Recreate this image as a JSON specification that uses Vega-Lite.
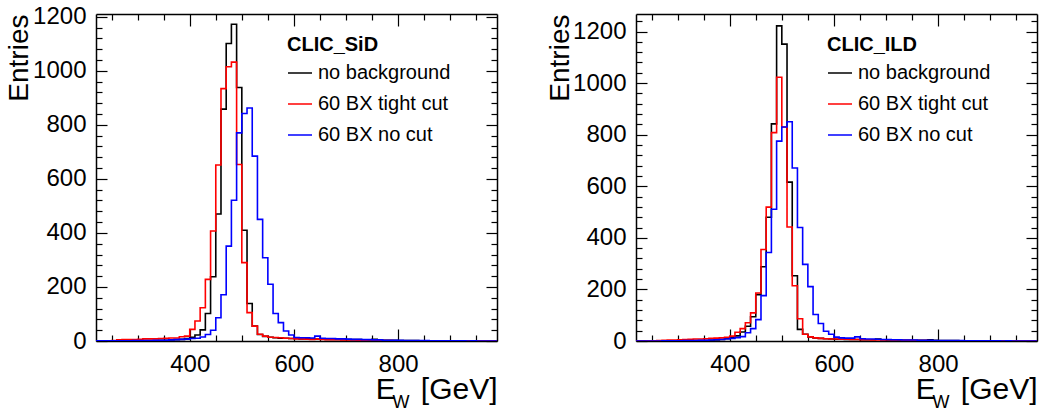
{
  "$schema": "https://vega.github.io/schema/vega-lite/v6.json",
  "autosize": {"type": "pad"},
  "padding": {"left": 4, "top": 4, "right": 0, "bottom": 0},
  "background": "white",
  "config": {
    "font": "Liberation Sans",
    "view": {"stroke": null},
    "axis": {"grid": false, "domainColor": "black", "domainWidth": 1.5, "tickColor": "black", "tickWidth": 1.2, "labelColor": "black", "titleColor": "black", "labelFontSize": 24, "titleFontSize": 28, "titleFontWeight": "normal", "labelFont": "Liberation Sans", "titleFont": "Liberation Sans", "labelOverlap": false, "labelFlush": false, "format": "d"},
    "legend": {"orient": "none", "legendX": 191, "legendY": 21, "titleFontSize": 20, "titleFontWeight": "bold", "titleColor": "black", "titlePadding": 5, "labelFontSize": 20, "labelColor": "black", "symbolType": "stroke", "symbolSize": 576, "symbolStrokeWidth": 1.5, "rowPadding": 8, "labelOffset": 5, "padding": 0, "offset": 0, "labelLimit": 400}
  },
  "datasets": {
    "sid": [
      {"x":220,"bg":0,"tc":0,"nc":1},{"x":230,"bg":0,"tc":0,"nc":1},{"x":240,"bg":0,"tc":1,"nc":1},{"x":250,"bg":0,"tc":2,"nc":1},
      {"x":260,"bg":1,"tc":4,"nc":1},{"x":270,"bg":1,"tc":5,"nc":1},{"x":280,"bg":1,"tc":5,"nc":1},{"x":290,"bg":1,"tc":5,"nc":2},
      {"x":300,"bg":2,"tc":6,"nc":2},{"x":310,"bg":2,"tc":8,"nc":2},{"x":320,"bg":2,"tc":8,"nc":2},{"x":330,"bg":2,"tc":8,"nc":3},
      {"x":340,"bg":3,"tc":9,"nc":3},{"x":350,"bg":3,"tc":10,"nc":3},{"x":360,"bg":4,"tc":11,"nc":4},{"x":370,"bg":5,"tc":11,"nc":5},
      {"x":380,"bg":6,"tc":16,"nc":6},{"x":390,"bg":9,"tc":18,"nc":7},{"x":400,"bg":14,"tc":43,"nc":9},{"x":410,"bg":22,"tc":74,"nc":10},
      {"x":420,"bg":41,"tc":123,"nc":15},{"x":430,"bg":102,"tc":228,"nc":24},{"x":440,"bg":238,"tc":407,"nc":40},{"x":450,"bg":470,"tc":651,"nc":86},
      {"x":460,"bg":858,"tc":934,"nc":171},{"x":470,"bg":1101,"tc":1015,"nc":351},{"x":480,"bg":1172,"tc":1032,"nc":521},{"x":490,"bg":938,"tc":653,"nc":770},
      {"x":500,"bg":410,"tc":290,"nc":842},{"x":510,"bg":139,"tc":105,"nc":862},{"x":520,"bg":55,"tc":55,"nc":684},{"x":530,"bg":24,"tc":25,"nc":450},
      {"x":540,"bg":17,"tc":18,"nc":308},{"x":550,"bg":14,"tc":14,"nc":210},{"x":560,"bg":12,"tc":13,"nc":102},{"x":570,"bg":10,"tc":12,"nc":68},
      {"x":580,"bg":10,"tc":10,"nc":37},{"x":590,"bg":9,"tc":9,"nc":22},{"x":600,"bg":9,"tc":8,"nc":13},{"x":610,"bg":8,"tc":8,"nc":12},
      {"x":620,"bg":8,"tc":7,"nc":12},{"x":630,"bg":7,"tc":6,"nc":11},{"x":640,"bg":7,"tc":7,"nc":18},{"x":650,"bg":7,"tc":6,"nc":10},
      {"x":660,"bg":6,"tc":5,"nc":9},{"x":670,"bg":6,"tc":5,"nc":9},{"x":680,"bg":6,"tc":5,"nc":8},{"x":690,"bg":5,"tc":4,"nc":8},
      {"x":700,"bg":5,"tc":4,"nc":7},{"x":710,"bg":5,"tc":4,"nc":6},{"x":720,"bg":5,"tc":3,"nc":6},{"x":730,"bg":4,"tc":3,"nc":5},
      {"x":740,"bg":4,"tc":4,"nc":5},{"x":750,"bg":6,"tc":3,"nc":4},{"x":760,"bg":4,"tc":2,"nc":4},{"x":770,"bg":3,"tc":2,"nc":3},
      {"x":780,"bg":3,"tc":2,"nc":3},{"x":790,"bg":3,"tc":1,"nc":3},{"x":800,"bg":2,"tc":1,"nc":3},{"x":810,"bg":2,"tc":1,"nc":2},
      {"x":820,"bg":2,"tc":1,"nc":2},{"x":830,"bg":2,"tc":1,"nc":2},{"x":840,"bg":1,"tc":1,"nc":2},{"x":850,"bg":1,"tc":0,"nc":2},
      {"x":860,"bg":1,"tc":0,"nc":1},{"x":870,"bg":1,"tc":0,"nc":1},{"x":880,"bg":0,"tc":0,"nc":1},{"x":890,"bg":0,"tc":0,"nc":1},
      {"x":900,"bg":0,"tc":0,"nc":1},{"x":910,"bg":0,"tc":0,"nc":1},{"x":920,"bg":0,"tc":0,"nc":1},{"x":930,"bg":0,"tc":0,"nc":0},
      {"x":940,"bg":0,"tc":0,"nc":1},{"x":950,"bg":0,"tc":0,"nc":0},{"x":960,"bg":0,"tc":0,"nc":0},{"x":970,"bg":0,"tc":0,"nc":0},
      {"x":980,"bg":0,"tc":0,"nc":0},{"x":990,"bg":0,"tc":0,"nc":0}
    ],
    "ild": [
      {"x":220,"bg":0,"tc":0,"nc":0},{"x":230,"bg":0,"tc":0,"nc":0},{"x":240,"bg":0,"tc":1,"nc":0},{"x":250,"bg":0,"tc":1,"nc":0},
      {"x":260,"bg":0,"tc":2,"nc":0},{"x":270,"bg":0,"tc":3,"nc":1},{"x":280,"bg":1,"tc":4,"nc":1},{"x":290,"bg":1,"tc":4,"nc":1},
      {"x":300,"bg":1,"tc":5,"nc":1},{"x":310,"bg":1,"tc":6,"nc":2},{"x":320,"bg":1,"tc":7,"nc":2},{"x":330,"bg":2,"tc":8,"nc":2},
      {"x":340,"bg":2,"tc":8,"nc":3},{"x":350,"bg":2,"tc":9,"nc":3},{"x":360,"bg":3,"tc":10,"nc":4},{"x":370,"bg":4,"tc":11,"nc":5},
      {"x":380,"bg":6,"tc":12,"nc":6},{"x":390,"bg":10,"tc":14,"nc":8},{"x":400,"bg":14,"tc":19,"nc":10},{"x":410,"bg":20,"tc":34,"nc":13},
      {"x":420,"bg":35,"tc":48,"nc":17},{"x":430,"bg":57,"tc":71,"nc":32},{"x":440,"bg":94,"tc":109,"nc":48},{"x":450,"bg":180,"tc":186,"nc":83},
      {"x":460,"bg":288,"tc":355,"nc":176},{"x":470,"bg":480,"tc":519,"nc":343},{"x":480,"bg":842,"tc":808,"nc":511},{"x":490,"bg":1222,"tc":1023,"nc":775},
      {"x":500,"bg":1151,"tc":830,"nc":830},{"x":510,"bg":616,"tc":442,"nc":850},{"x":520,"bg":253,"tc":214,"nc":671},{"x":530,"bg":45,"tc":86,"nc":440},
      {"x":540,"bg":26,"tc":26,"nc":297},{"x":550,"bg":16,"tc":16,"nc":211},{"x":560,"bg":12,"tc":12,"nc":103},{"x":570,"bg":10,"tc":10,"nc":68},
      {"x":580,"bg":9,"tc":9,"nc":38},{"x":590,"bg":8,"tc":8,"nc":26},{"x":600,"bg":7,"tc":8,"nc":15},{"x":610,"bg":7,"tc":7,"nc":12},
      {"x":620,"bg":6,"tc":7,"nc":11},{"x":630,"bg":6,"tc":6,"nc":11},{"x":640,"bg":6,"tc":6,"nc":16},{"x":650,"bg":5,"tc":5,"nc":9},
      {"x":660,"bg":5,"tc":5,"nc":8},{"x":670,"bg":5,"tc":4,"nc":8},{"x":680,"bg":8,"tc":4,"nc":7},{"x":690,"bg":5,"tc":4,"nc":6},
      {"x":700,"bg":4,"tc":5,"nc":6},{"x":710,"bg":4,"tc":4,"nc":5},{"x":720,"bg":4,"tc":5,"nc":5},{"x":730,"bg":3,"tc":3,"nc":4},
      {"x":740,"bg":3,"tc":3,"nc":4},{"x":750,"bg":3,"tc":2,"nc":4},{"x":760,"bg":3,"tc":2,"nc":3},{"x":770,"bg":3,"tc":2,"nc":3},
      {"x":780,"bg":5,"tc":1,"nc":3},{"x":790,"bg":3,"tc":1,"nc":2},{"x":800,"bg":2,"tc":1,"nc":2},{"x":810,"bg":2,"tc":1,"nc":2},
      {"x":820,"bg":2,"tc":1,"nc":2},{"x":830,"bg":2,"tc":0,"nc":2},{"x":840,"bg":1,"tc":0,"nc":2},{"x":850,"bg":1,"tc":0,"nc":1},
      {"x":860,"bg":1,"tc":0,"nc":1},{"x":870,"bg":1,"tc":0,"nc":1},{"x":880,"bg":0,"tc":0,"nc":1},{"x":890,"bg":0,"tc":0,"nc":1},
      {"x":900,"bg":0,"tc":0,"nc":1},{"x":910,"bg":0,"tc":0,"nc":1},{"x":920,"bg":0,"tc":0,"nc":0},{"x":930,"bg":0,"tc":0,"nc":1},
      {"x":940,"bg":0,"tc":0,"nc":0},{"x":950,"bg":0,"tc":0,"nc":0},{"x":960,"bg":0,"tc":0,"nc":0},{"x":970,"bg":0,"tc":0,"nc":0},
      {"x":980,"bg":0,"tc":0,"nc":0},{"x":990,"bg":0,"tc":0,"nc":0}
    ]
  },
  "spacing": 139,
  "bounds": "flush",
  "resolve": {"scale": {"color": "independent"}, "legend": {"color": "independent"}},
  "hconcat": [
    {
      "width": 401, "height": 327,
      "data": {"name": "sid"},
      "transform": [{"fold": ["bg", "tc", "nc"], "as": ["s", "n"]}],
      "resolve": {"axis": {"x": "independent", "y": "independent"}},
      "layer": [
        {
          "mark": {"type": "line", "interpolate": "step-after", "strokeWidth": 1.6, "clip": true},
          "encoding": {
            "x": {"field": "x", "type": "quantitative", "scale": {"domain": [220, 990], "nice": false, "zero": false},
              "axis": {"orient": "bottom", "values": [250,300,350,400,450,500,550,600,650,700,750,800,850,900,950],
                "tickSize": {"condition": {"test": "datum.value % 200 === 0", "value": -12}, "value": -6},
                "labelExpr": "datum.value % 200 === 0 ? datum.label : ''", "labelPadding": 23,
                "title": "E\u00a0\u00a0\u00a0[GeV]", "titleFontSize": 30, "titleX": 401, "titleY": 57, "titleAlign": "right", "titleAnchor": "end", "titleBaseline": "alphabetic"}},
            "y": {"field": "n", "type": "quantitative", "scale": {"domain": [0, 1210], "nice": false},
              "axis": {"orient": "left", "values": [0,40,80,120,160,200,240,280,320,360,400,440,480,520,560,600,640,680,720,760,800,840,880,920,960,1000,1040,1080,1120,1160,1200],
                "tickSize": {"condition": {"test": "datum.value % 200 === 0", "value": -11}, "value": -6},
                "labelExpr": "datum.value % 200 === 0 ? datum.label : ''", "labelPadding": 21,
                "title": "Entries", "titleX": -77, "titleY": 0, "titleAlign": "right", "titleBaseline": "middle", "titleAngle": -90, "titleAnchor": "end"}},
            "color": {"field": "s", "type": "nominal", "scale": {"domain": ["bg", "tc", "nc"], "range": ["#000000", "#ff0000", "#0000ff"]},
              "legend": {"title": "CLIC_SiD", "labelExpr": "datum.label == 'bg' ? 'no background' : datum.label == 'tc' ? '60 BX tight cut' : '60 BX no cut'"}}
          }
        },
        {
          "mark": {"type": "point", "opacity": 0},
          "encoding": {
            "x": {"field": "x", "type": "quantitative", "scale": {"domain": [220, 990], "nice": false, "zero": false},
              "axis": {"orient": "top", "values": [250,300,350,400,450,500,550,600,650,700,750,800,850,900,950],
                "tickSize": {"condition": {"test": "datum.value % 200 === 0", "value": -12}, "value": -6},
                "labels": false, "title": "W", "titleFontSize": 18, "titleX": 296, "titleY": 393, "titleAlign": "left", "titleBaseline": "alphabetic"}},
            "y": {"field": "n", "type": "quantitative", "scale": {"domain": [0, 1210], "nice": false},
              "axis": {"orient": "right", "values": [0,40,80,120,160,200,240,280,320,360,400,440,480,520,560,600,640,680,720,760,800,840,880,920,960,1000,1040,1080,1120,1160,1200],
                "tickSize": {"condition": {"test": "datum.value % 200 === 0", "value": -11}, "value": -6},
                "labels": false, "title": null}}
          }
        }
      ]
    },
    {
      "width": 401, "height": 327,
      "data": {"name": "ild"},
      "transform": [{"fold": ["bg", "tc", "nc"], "as": ["s", "n"]}],
      "resolve": {"axis": {"x": "independent", "y": "independent"}},
      "layer": [
        {
          "mark": {"type": "line", "interpolate": "step-after", "strokeWidth": 1.6, "clip": true},
          "encoding": {
            "x": {"field": "x", "type": "quantitative", "scale": {"domain": [220, 990], "nice": false, "zero": false},
              "axis": {"orient": "bottom", "values": [250,300,350,400,450,500,550,600,650,700,750,800,850,900,950],
                "tickSize": {"condition": {"test": "datum.value % 200 === 0", "value": -12}, "value": -6},
                "labelExpr": "datum.value % 200 === 0 ? datum.label : ''", "labelPadding": 23,
                "title": "E\u00a0\u00a0\u00a0[GeV]", "titleFontSize": 30, "titleX": 401, "titleY": 57, "titleAlign": "right", "titleAnchor": "end", "titleBaseline": "alphabetic"}},
            "y": {"field": "n", "type": "quantitative", "scale": {"domain": [0, 1268], "nice": false},
              "axis": {"orient": "left", "values": [0,40,80,120,160,200,240,280,320,360,400,440,480,520,560,600,640,680,720,760,800,840,880,920,960,1000,1040,1080,1120,1160,1200,1240],
                "tickSize": {"condition": {"test": "datum.value % 200 === 0", "value": -11}, "value": -6},
                "labelExpr": "datum.value % 200 === 0 ? datum.label : ''", "labelPadding": 21,
                "title": "Entries", "titleX": -76, "titleY": 0, "titleAlign": "right", "titleBaseline": "middle", "titleAngle": -90, "titleAnchor": "end"}},
            "color": {"field": "s", "type": "nominal", "scale": {"domain": ["bg", "tc", "nc"], "range": ["#000000", "#ff0000", "#0000ff"]},
              "legend": {"title": "CLIC_ILD", "labelExpr": "datum.label == 'bg' ? 'no background' : datum.label == 'tc' ? '60 BX tight cut' : '60 BX no cut'"}}
          }
        },
        {
          "mark": {"type": "point", "opacity": 0},
          "encoding": {
            "x": {"field": "x", "type": "quantitative", "scale": {"domain": [220, 990], "nice": false, "zero": false},
              "axis": {"orient": "top", "values": [250,300,350,400,450,500,550,600,650,700,750,800,850,900,950],
                "tickSize": {"condition": {"test": "datum.value % 200 === 0", "value": -12}, "value": -6},
                "labels": false, "title": "W", "titleFontSize": 18, "titleX": 296, "titleY": 393, "titleAlign": "left", "titleBaseline": "alphabetic"}},
            "y": {"field": "n", "type": "quantitative", "scale": {"domain": [0, 1268], "nice": false},
              "axis": {"orient": "right", "values": [0,40,80,120,160,200,240,280,320,360,400,440,480,520,560,600,640,680,720,760,800,840,880,920,960,1000,1040,1080,1120,1160,1200,1240],
                "tickSize": {"condition": {"test": "datum.value % 200 === 0", "value": -11}, "value": -6},
                "labels": false, "title": null}}
          }
        }
      ]
    }
  ]
}
